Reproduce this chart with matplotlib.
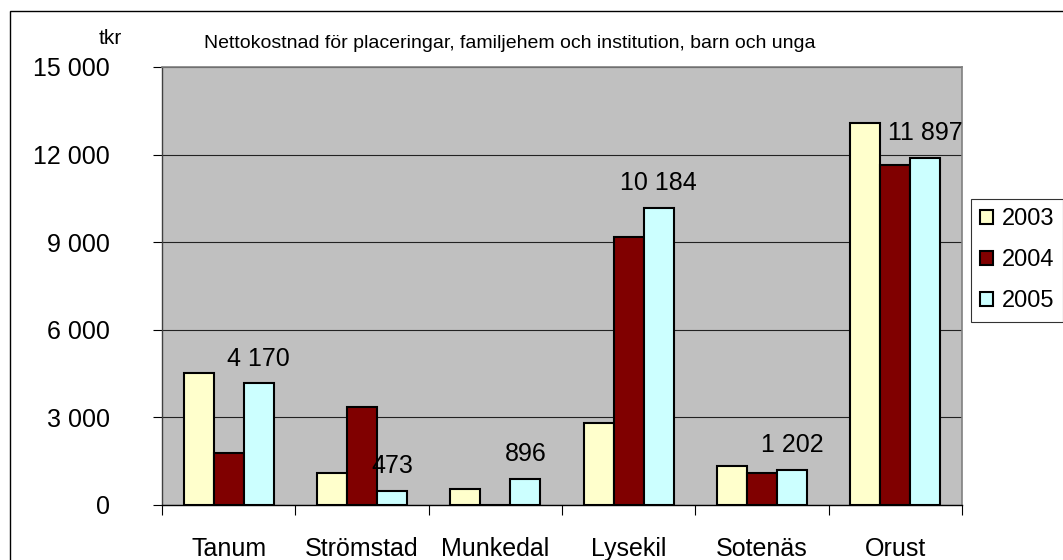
import numpy as np
import matplotlib.pyplot as plt
from matplotlib.patches import Rectangle

# Data (tkr)
kommuner = ["Tanum", "Strömstad", "Munkedal", "Lysekil", "Sotenäs", "Orust"]
years = ["2003", "2004", "2005"]
v2003 = [4510, 1080, 540, 2790, 1340, 13090]
v2004 = [1760, 3340, 0, 9180, 1080, 11650]
v2005 = [4170, 473, 896, 10184, 1202, 11897]
yticks = [0, 3000, 6000, 9000, 12000, 15000]

colors = ["#FFFFCC", "#800000", "#CCFFFF"]
title = "Nettokostnad för placeringar, familjehem och institution, barn och unga"


def fmt(v):
    return f"{v:,}".replace(",", " ")


plt.rcParams['font.family'] = ['Liberation Sans', 'DejaVu Sans']

W, H = 1063, 560
fig = plt.figure(figsize=(W / 100, H / 100), dpi=100)
ax = fig.add_axes([162 / W, 1 - 504.7 / H, 800 / W, (504.7 - 67) / H])
ax.set_facecolor("#C0C0C0")

x = np.arange(len(kommuner))
bw = 0.225
series = [v2003, v2004, v2005]
for i, (vals, col, yr) in enumerate(zip(series, colors, years)):
    ax.bar(x + (i - 1) * bw, vals, width=bw, color=col, edgecolor="black",
           linewidth=1.5, label=yr, zorder=3)

# value labels for 2005 only
for xi, v in zip(x, v2005):
    ax.annotate(fmt(v), (xi + bw, v), xytext=(0, 9), textcoords="offset points",
                ha="center", va="bottom", fontsize=18, zorder=4)

ax.set_xlim(-0.5, len(kommuner) - 0.5)
ax.set_ylim(0, 15000)
ax.set_yticks(yticks)
ax.set_yticklabels([fmt(t) for t in yticks], fontsize=18)
ax.tick_params(axis="y", length=6.5, width=0.8, pad=31, direction="out")
ax.set_xticks(x)
ax.set_xticklabels(kommuner, fontsize=18)
ax.set_xticks(np.arange(-0.5, len(kommuner)), minor=True)
ax.tick_params(axis="x", which="major", length=0, pad=23)
ax.tick_params(axis="x", which="minor", length=7, width=0.8, direction="out")

ax.yaxis.grid(True, color="#222222", linewidth=0.8, zorder=1)
ax.set_axisbelow(True)
for s in ["top", "right"]:
    ax.spines[s].set_color("#808080")
    ax.spines[s].set_linewidth(1.2)
ax.spines["left"].set_color("#404040")
ax.spines["bottom"].set_color("black")
ax.spines["left"].set_linewidth(1)
ax.spines["bottom"].set_linewidth(1)

leg = ax.legend(loc="upper left", bbox_to_anchor=(970.7 / W, 1 - 199 / H),
                bbox_transform=fig.transFigure, fontsize=17, frameon=True,
                fancybox=False, edgecolor="black", handlelength=0.55,
                handleheight=0.55, handletextpad=0.35, labelspacing=0.8,
                borderpad=0.4, borderaxespad=0)
leg.get_frame().set_linewidth(0.8)
for p in leg.get_patches():
    p.set_linewidth(1.5)

fig.text(510 / W, 1 - 44 / H, title, ha="center", va="center", fontsize=14)
fig.text(110 / W, 1 - 38 / H, "tkr", ha="center", va="center", fontsize=15)

# outer chart frame (extends past the right and bottom edges)
fig.patches.append(Rectangle((9.5 / W, -0.1), 1.2, 1.1 - 11 / H,
                             transform=fig.transFigure, fill=False,
                             edgecolor="black", linewidth=1))

fig.savefig("out.png", dpi=100)
